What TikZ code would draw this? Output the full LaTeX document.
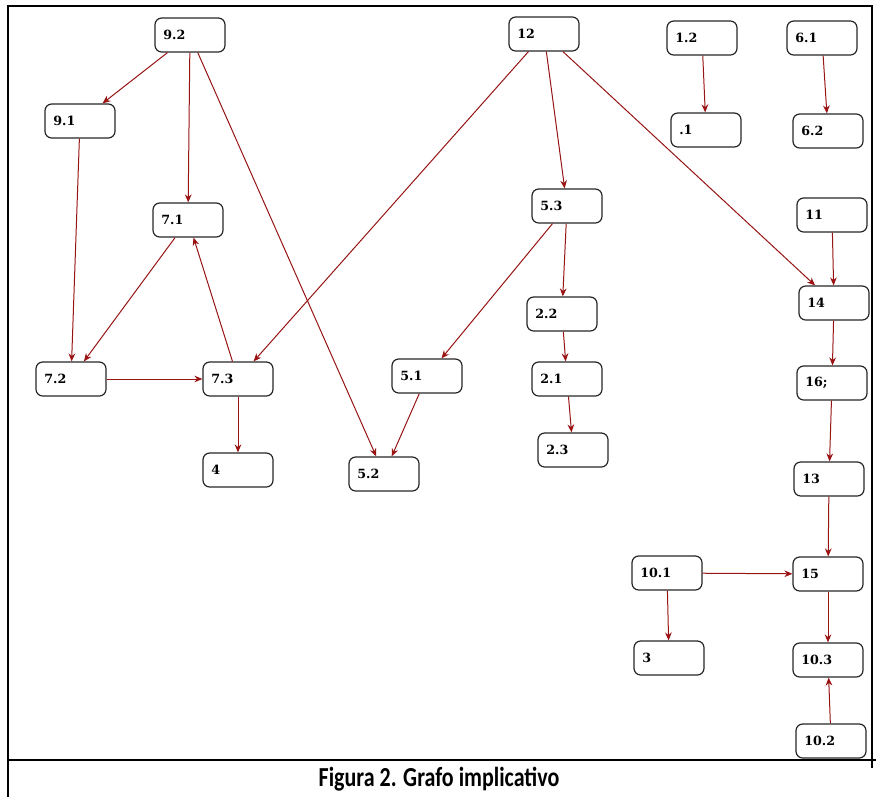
\documentclass[tikz,border=0pt]{standalone}
\usepackage{fontspec}
\newfontfamily\nodefont{DejaVu Serif}
\newfontfamily\capfont{Carlito}
\usetikzlibrary{arrows.meta}
\definecolor{edgered}{RGB}{150,20,20}
\definecolor{tipred}{RGB}{215,0,0}
\begin{document}
\begin{tikzpicture}[x=0.75pt,y=-0.75pt,
  nd/.style={draw=black!85, line width=0.9pt, rounded corners=5pt,
    minimum width=52.5pt, minimum height=25.5pt, text width=40pt,
    inner xsep=6pt, align=left,
    font=\nodefont\bfseries\fontsize{9.5}{11}\selectfont},
  edge/.style={draw=edgered, line width=0.75pt,
    -{Stealth[length=6pt,width=5pt,fill=tipred]}},
  frame/.style={line width=2pt}]
\useasboundingbox (0,0) rectangle (878,797);

% frame
\draw[frame] (8,797) -- (8,6) -- (872,6) -- (872,768);
\draw[frame] (8,760) -- (876,760);

% nodes
\node[nd] (n92)  at (190,35)  {9.2};
\node[nd] (n12)  at (544,34)  {12};
\node[nd] (n1p2) at (702,38)  {1.2};
\node[nd] (n61)  at (822,38)  {6.1};
\node[nd] (n91)  at (80,121)  {9.1};
\node[nd] (n1)   at (706,130) {.1};
\node[nd] (n62)  at (828,131) {6.2};
\node[nd] (n71)  at (188,220) {7.1};
\node[nd] (n53)  at (567,206) {5.3};
\node[nd] (n11)  at (832,215) {11};
\node[nd] (n14)  at (834,303) {14};
\node[nd] (n22)  at (562,314) {2.2};
\node[nd] (n72)  at (71,379)  {7.2};
\node[nd] (n73)  at (238,379) {7.3};
\node[nd] (n51)  at (427,376) {5.1};
\node[nd] (n21)  at (567,379) {2.1};
\node[nd] (n16)  at (832,383) {16;};
\node[nd] (n4)   at (238,470) {4};
\node[nd] (n52)  at (384,474) {5.2};
\node[nd] (n23)  at (573,450) {2.3};
\node[nd] (n13)  at (829,479) {13};
\node[nd] (n101) at (667,573) {10.1};
\node[nd] (n15)  at (828,574) {15};
\node[nd] (n3)   at (669,658) {3};
\node[nd] (n103) at (828,660) {10.3};
\node[nd] (n102) at (831,741) {10.2};

% edges
\draw[edge] (n92) -- (n91);
\draw[edge] (n92) -- (n71);
\draw[edge] (n92) -- (n52);
\draw[edge] (n12) -- (n73);
\draw[edge] (n12) -- (n53);
\draw[edge] (n12) -- (n14);
\draw[edge] (n1p2) -- (n1);
\draw[edge] (n61) -- (n62);
\draw[edge] (n91) -- (n72);
\draw[edge] (n71) -- (n72);
\draw[edge] (n73) -- (n71);
\draw[edge] (n72) -- (n73);
\draw[edge] (n73) -- (n4);
\draw[edge] (n53) -- (n51);
\draw[edge] (n53) -- (n22);
\draw[edge] (n51) -- (n52);
\draw[edge] (n22) -- (n21);
\draw[edge] (n21) -- (n23);
\draw[edge] (n11) -- (n14);
\draw[edge] (n14) -- (n16);
\draw[edge] (n16) -- (n13);
\draw[edge] (n13) -- (n15);
\draw[edge] (n101) -- (n15);
\draw[edge] (n101) -- (n3);
\draw[edge] (n15) -- (n103);
\draw[edge] (n102) -- (n103);

% caption
\node[font=\capfont\bfseries\fontsize{16.5}{19}\selectfont, yscale=1.25] (cap) at (439,779) {Figura 2. Grafo implicativo};
\end{tikzpicture}
\end{document}
